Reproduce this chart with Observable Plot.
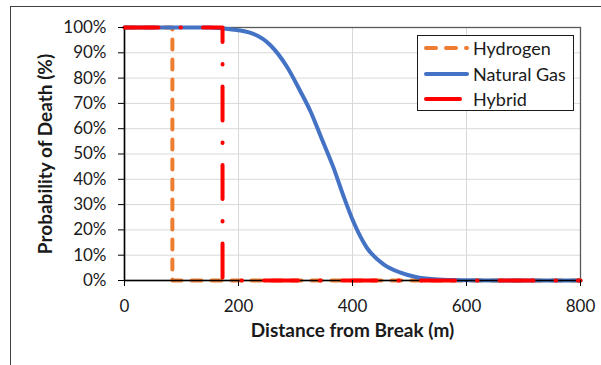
<!DOCTYPE html>
<html>
<head>
<meta charset="utf-8">
<script src="https://cdn.jsdelivr.net/npm/d3@7"></script>
<script src="https://cdn.jsdelivr.net/npm/@observablehq/plot@0.6"></script>
<style>
  html, body { margin: 0; padding: 0; background: #fff; }
  #wrap { position: relative; width: 601px; height: 365px; overflow: hidden; font-family: Lato, sans-serif; }
  #outer { position: absolute; left: 10px; top: 6px; width: 620px; height: 400px; border-left: 1px solid #404040; border-top: 1px solid #404040; }
  #chart { position: absolute; left: 0; top: 0; }
  #legend { position: absolute; left: 417px; top: 35px; width: 155px; height: 74px; border: 1px solid #1a1a1a; background: #fff; }
  #legend .row { position: absolute; left: 0; height: 24px; width: 155px; }
  #legend svg { position: absolute; left: 0; top: 0; }
  #legend span { position: absolute; left: 55px; top: 0px; font-size: 18px; line-height: 24px; color: #1a1a1a; white-space: nowrap; }
</style>
</head>
<body>
<div id="wrap">
  <div id="outer"></div>
  <div id="chart"></div>
  <div id="legend"></div>
</div>
<script>
// Series names and colours
const seriesNames = ["Hydrogen", "Natural Gas", "Hybrid"];
const seriesColors = ["#ED7D31", "#4472C4", "#FF0000"];

// Hydrogen: distance (m) and probability of death (%)
const hydrogenDist = [0, 84, 84, 800];
const hydrogenProb = [100, 100, 0, 0];

// Natural gas
const gasDist = [0, 100, 150, 185, 226, 256, 285, 308, 326, 346, 366, 384, 402, 425, 454, 483, 513, 550, 600, 650, 800];
const gasProb = [100, 100, 100, 99.3, 97.5, 93, 84.5, 75, 67, 56, 45, 33.5, 23, 13, 6.5, 3.2, 1.3, 0.4, 0.1, 0, 0];

// Hybrid
const hybridDist = [0, 172, 172, 800];
const hybridProb = [100, 100, 0, 0];

// Ticks
const xTicks = [0, 200, 400, 600, 800];
const yTicks = [0, 10, 20, 30, 40, 50, 60, 70, 80, 90, 100];

const toRows = (xs, ys) => xs.map((x, i) => ({x, y: ys[i]}));
const hydrogen = toRows(hydrogenDist, hydrogenProb);
const gas = toRows(gasDist, gasProb);
const hybrid = toRows(hybridDist, hybridProb);

const dashes = ["10,10", null, "34,22,0.5,22"];

const chart = Plot.plot({
  width: 601,
  height: 365,
  marginLeft: 124,
  marginRight: 21,
  marginTop: 27,
  marginBottom: 85,
  style: {fontFamily: "Lato, sans-serif", fontSize: "17px", color: "#1a1a1a", background: "transparent", overflow: "visible"},
  x: {domain: [0, 800]},
  y: {domain: [0, 100]},
  marks: [
    Plot.gridX(xTicks, {stroke: "#d9d9d9", strokeOpacity: 1, strokeWidth: 1}),
    Plot.gridY(yTicks, {stroke: "#d9d9d9", strokeOpacity: 1, strokeWidth: 1}),
    Plot.frame({stroke: "#595959", strokeWidth: 1.3}),
    Plot.line(hydrogen, {x: "x", y: "y", stroke: seriesColors[0], strokeWidth: 4, strokeDasharray: dashes[0], strokeLinecap: "round"}),
    Plot.line(gas, {x: "x", y: "y", stroke: seriesColors[1], strokeWidth: 4, curve: "monotone-x"}),
    Plot.ruleY([0], {stroke: "#000", strokeWidth: 1.5}),
    Plot.ruleX([0], {stroke: "#000", strokeWidth: 1.5}),
    Plot.line(hybrid, {x: "x", y: "y", stroke: seriesColors[2], strokeWidth: 4, strokeDasharray: dashes[2], strokeLinecap: "round"}),
    Plot.axisX(xTicks, {tickSize: 6, tickPadding: 13, label: null, stroke: "#000"}),
    Plot.axisY(yTicks, {tickSize: 6, tickPadding: 12, label: null, tickFormat: d => d + "%", stroke: "#000"}),
    Plot.text(["Distance from Break (m)"], {frameAnchor: "bottom", dy: 56, text: d => d, fontWeight: "bold", fontSize: 19, fill: "#1a1a1a"}),
    Plot.text(["Probability of Death (%)"], {frameAnchor: "left", dx: -79, rotate: -90, textAnchor: "middle", text: d => d, fontWeight: "bold", fontSize: 19, fill: "#1a1a1a"})
  ]
});
document.getElementById("chart").appendChild(chart);

// Legend
const legend = document.getElementById("legend");
const rowTops = [0, 26, 51];
seriesNames.forEach((name, i) => {
  const row = document.createElement("div");
  row.className = "row";
  row.style.top = rowTops[i] + "px";
  const ns = "http://www.w3.org/2000/svg";
  const svg = document.createElementNS(ns, "svg");
  svg.setAttribute("width", 55);
  svg.setAttribute("height", 24);
  const ln = document.createElementNS(ns, "line");
  ln.setAttribute("x1", 8);
  ln.setAttribute("x2", i === 2 ? 43 : 49);
  ln.setAttribute("y1", 12);
  ln.setAttribute("y2", 12);
  ln.setAttribute("stroke", seriesColors[i]);
  ln.setAttribute("stroke-width", 4);
  ln.setAttribute("stroke-linecap", "round");
  if (dashes[i]) ln.setAttribute("stroke-dasharray", dashes[i]);
  svg.appendChild(ln);
  row.appendChild(svg);
  const sp = document.createElement("span");
  sp.textContent = name;
  row.appendChild(sp);
  legend.appendChild(row);
});
</script>
</body>
</html>
